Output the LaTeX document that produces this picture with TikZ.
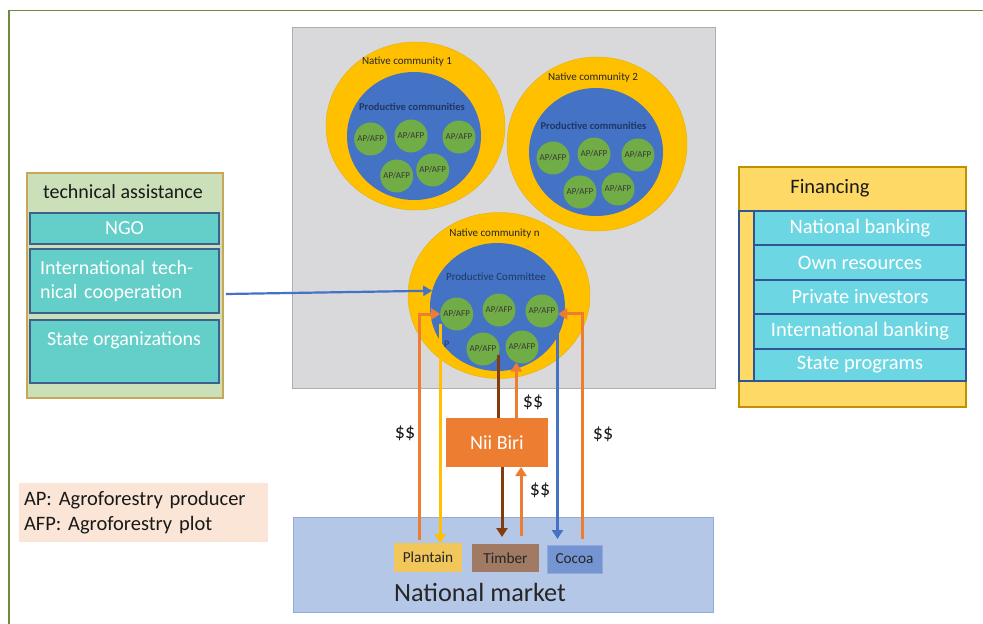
\documentclass[tikz,border=0pt]{standalone}
\usepackage{fontspec}
\setmainfont{Carlito}
\usetikzlibrary{shapes.geometric,arrows.meta,calc}
\definecolor{cgrayf}{HTML}{D9D9DB}
\definecolor{cgrayd}{HTML}{AEAEAE}
\definecolor{cgold}{HTML}{FFC000}
\definecolor{cblue}{HTML}{4472C4}
\definecolor{cgreen}{HTML}{70AD47}
\definecolor{corange}{HTML}{ED7D31}
\definecolor{cbrown}{HTML}{843C0C}
\definecolor{cplantain}{HTML}{F1C75B}
\definecolor{ctimber}{HTML}{A07A62}
\definecolor{ccocoa}{HTML}{7595D2}
\definecolor{cmarket}{HTML}{B4C7E7}
\definecolor{cmarketd}{HTML}{8FAADC}
\definecolor{ctechf}{HTML}{CBE0B8}
\definecolor{ctechd}{HTML}{C8A858}
\definecolor{ctealA}{HTML}{64CEC8}
\definecolor{ctealAd}{HTML}{3F5F8F}
\definecolor{cfinf}{HTML}{FFD966}
\definecolor{cfind}{HTML}{BF9000}
\definecolor{ctealB}{HTML}{6DD6E3}
\definecolor{ctealBd}{HTML}{2F5597}
\definecolor{clegend}{HTML}{FBE5D6}
\definecolor{cframe}{HTML}{6E8B3D}
\definecolor{cnavy}{HTML}{1F3864}
\begin{document}
\begin{tikzpicture}[x=1pt,y=-1pt,
  every node/.style={inner sep=0pt,outer sep=0pt},
  outerc/.style={ellipse,fill=cgold,draw=cgold!80!gray,line width=0.5pt},
  innerc/.style={ellipse,fill=cblue},
  apc/.style={circle,fill=cgreen,minimum size=33pt,text=black!78,font=\fontsize{9}{10}\selectfont},
  nclabel/.style={text=black!85,font=\fontsize{11}{13}\selectfont},
  pclabel/.style={text=cnavy,font=\bfseries\fontsize{10.5}{12}\selectfont},
  dollar/.style={text=black!90,font=\fontsize{20}{24}\selectfont},
  prodbox/.style={rectangle,text=black!85,font=\fontsize{15.3}{18}\selectfont},
  tealA/.style={rectangle,fill=ctealA,draw=ctealAd,line width=1.1pt,text=white,font=\fontsize{20}{24}\selectfont},
  tealB/.style={rectangle,fill=ctealB,draw=ctealBd,line width=1.1pt,text=white,font=\fontsize{20.5}{24}\selectfont,minimum width=212pt},
  oarrow/.style={draw=corange,line width=3pt,-{Triangle[width=11pt,length=9pt]}},
  yarrow/.style={draw=cgold,line width=3pt,-{Triangle[width=11pt,length=9pt]}},
  barrow/.style={draw=cbrown,line width=3pt,-{Triangle[width=11pt,length=9pt]}},
  bline/.style={draw=cbrown,line width=3pt},
  blarrow/.style={draw=cblue,line width=2.8pt,-{Triangle[width=11pt,length=9pt]}},
  tarrow/.style={draw=cblue,line width=2.2pt,-{Triangle[width=10pt,length=9pt]}}
]
\useasboundingbox (0,0) rectangle (983,624);
\fill[white] (0,0) rectangle (983,624);
% frame
\draw[cframe,line width=1.6pt] (983,10.5) -- (9,10.5) -- (9,624);

% gray zone
\node[rectangle,fill=cgrayf,draw=cgrayd,line width=0.8pt,minimum width=423pt,minimum height=361pt] (zone) at (503.5,207.5) {};

% community 1
\node[outerc,minimum width=179pt,minimum height=168pt] (nc1) at (415.5,126) {};
\node[innerc,minimum width=134pt,minimum height=128pt] (pc1) at (414,136) {};
\node[nclabel] (nc1t) at (407,62) {Native community 1};
\node[pclabel] (pc1t) at (412,107) {Productive communities};
\node[apc] (a11) at (370.7,139) {AP/AFP};
\node[apc] (a12) at (411,136) {AP/AFP};
\node[apc] (a13) at (459,137) {AP/AFP};
\node[apc] (a14) at (396.7,176) {AP/AFP};
\node[apc] (a15) at (432.7,170) {AP/AFP};

% community 2
\node[outerc,minimum width=180pt,minimum height=174pt] (nc2) at (597,144) {};
\node[innerc,minimum width=134pt,minimum height=128pt] (pc2) at (596,152) {};
\node[nclabel] (nc2t) at (593,77.7) {Native community 2};
\node[pclabel] (pc2t) at (593.5,126) {Productive communities};
\node[apc] (a21) at (553,158) {AP/AFP};
\node[apc] (a22) at (594,154) {AP/AFP};
\node[apc] (a23) at (638,155) {AP/AFP};
\node[apc] (a24) at (580,192) {AP/AFP};
\node[apc] (a25) at (618,189) {AP/AFP};

% community n
\node[outerc,minimum width=182pt,minimum height=166pt] (ncn) at (499,295.5) {};
\node[innerc,minimum width=135pt,minimum height=128pt] (nblue) at (497.5,307) {};
\node[nclabel] (ncnt) at (494.5,234) {Native community n};
\node[text=cnavy,font=\fontsize{11}{13}\selectfont] (pcnt) at (496,277) {Productive Committee};
\node[apc] (n1) at (456.7,314) {AP/AFP};
\node[apc] (n2) at (499,310) {AP/AFP};
\node[apc] (n3) at (542,311) {AP/AFP};
\node[apc] (n4) at (483,349) {AP/AFP};
\node[apc] (n5) at (522,347) {AP/AFP};
\node[text=cnavy,font=\fontsize{10}{12}\selectfont] (pn) at (446.7,344) {P};

% technical assistance
\node[rectangle,fill=ctechf,draw=ctechd,line width=1.1pt,minimum width=196pt,minimum height=225pt] (tech) at (125,285.5) {};
\node[text=black!90,font=\fontsize{20}{24}\selectfont] (techt) at (123,192) {technical assistance};
\node[tealA,minimum width=189pt,minimum height=31pt] (ngo) at (124.5,228.5) {NGO};
\node[tealA,minimum width=189pt,minimum height=64pt,text width=169pt,inner xsep=10pt,align=left] (intl) at (124.5,281) {International tech-\\nical cooperation};
\node[tealA,minimum width=189pt,minimum height=63pt] (state) at (124.5,351.5) {};
\node[text=white,font=\fontsize{20}{24}\selectfont] (statet) at (124,340) {State organizations};

% financing
\node[rectangle,fill=cfinf,draw=cfind,line width=1.1pt,minimum width=227pt,minimum height=240pt] (fin) at (852.5,287) {};
\node[text=black!90,font=\fontsize{20.5}{24}\selectfont] (fint) at (830,188) {Financing};
\node[rectangle,fill=cfinf,draw=ctealBd,line width=1.1pt,minimum width=15pt,minimum height=170pt] (strip) at (746.5,296) {};
\node[tealB,minimum height=34pt] (nb) at (860,228) {National banking};
\node[tealB,minimum height=35pt] (orr) at (860,262.5) {Own resources};
\node[tealB,minimum height=34pt] (pinv) at (860,297) {Private investors};
\node[tealB,minimum height=35pt] (ib) at (860,331.5) {International banking};
\node[tealB,minimum height=32pt] (sp) at (860,365) {State programs};

% legend
\node[rectangle,fill=clegend,minimum width=249pt,minimum height=59pt,text width=239pt,align=left,text=black!90,font=\fontsize{20.5}{25}\selectfont] (legend) at (143.5,512.5) {AP: Agroforestry producer\\AFP: Agroforestry plot};

% national market
\node[rectangle,fill=cmarket,draw=cmarketd,line width=1pt,minimum width=420pt,minimum height=95pt] (market) at (503,564.5) {};
\node[text=black!85,font=\fontsize{26.3}{30}\selectfont] (markett) at (480,592) {National market};
\node[prodbox,fill=cplantain,minimum width=68pt,minimum height=29pt] (plantain) at (428,557.5) {Plantain};
\node[prodbox,fill=ctimber,minimum width=67pt,minimum height=28pt] (timber) at (505.5,558) {Timber};
\node[prodbox,fill=ccocoa,draw=cmarketd,line width=0.6pt,minimum width=55pt,minimum height=28pt] (cocoa) at (574.5,559) {Cocoa};

% Nii Biri
\node[rectangle,fill=corange,text=white,minimum width=102pt,minimum height=49pt,font=\fontsize{20}{24}\selectfont] (niibiri) at (497,442.5) {Nii Biri};

% connectors
\draw[tarrow] ($(tech.east)+(3,8.5)$) -- (nblue.166);
\draw[oarrow] ($(plantain.north)+(-9,-3)$) |- (n1.west);
\draw[yarrow] ($(n1.west)+(0,10)$) -- (n1.west |- plantain.north);
\draw[bline] (n4.-20) -- (n4.-20 |- niibiri.north);
\draw[oarrow] (niibiri.north -| n5.-110) -- (n5.-110);
\draw[barrow] ($(niibiri.south)+(5,0)$) -- ($(timber.north)+(-3.5,-7)$);
\draw[oarrow] ($(timber.north)+(15.5,-8)$) -- ($(niibiri.south)+(24,0)$);
\draw[blarrow] ($(n3.south)+(15.5,0)$) -- ($(cocoa.north)+(-17,-6)$);
\draw[oarrow] ($(cocoa.north)+(7.5,-6)$) |- (n3.-10);

% dollar labels
\node[dollar] (d1) at (405,433) {\$\$};
\node[dollar] (d2) at (533,402) {\$\$};
\node[dollar] (d3) at (603,434) {\$\$};
\node[dollar] (d4) at (540,490) {\$\$};
\end{tikzpicture}
\end{document}
